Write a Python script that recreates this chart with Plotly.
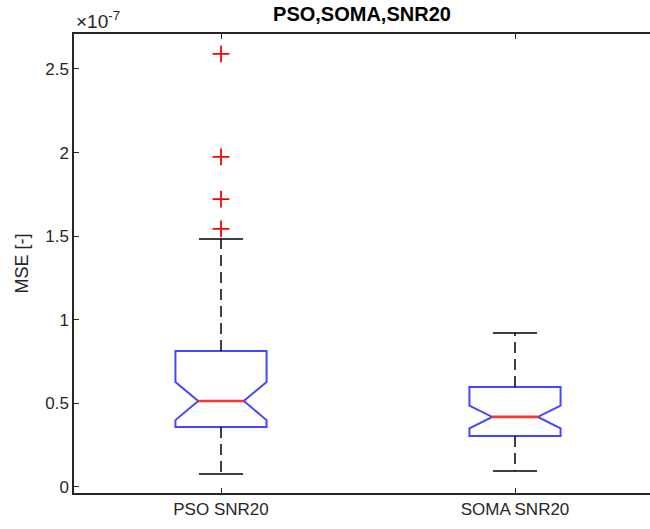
import plotly.graph_objects as go

# ---- data (values expressed in units of 1e-7) ----
SCALE = 1e-7
categories = ["PSO SNR20", "SOMA SNR20"]
positions = [1, 2]
q1 = [0.359, 0.305]
median = [0.514, 0.419]
q3 = [0.813, 0.598]
notch_half = [0.114, 0.068]
lower_whisker = [0.078, 0.096]
upper_whisker = [1.483, 0.921]
outliers_pso = [2.590, 1.974, 1.722, 1.543]
outliers_soma = []
ytick_vals = [0, 0.5, 1, 1.5, 2, 2.5]
ytick_text = ["0", "0.5", "1", "1.5", "2", "2.5"]

BOX_W = 0.31
NOTCH_W = 0.25
HALF_WAIST = BOX_W / 2 * (1 - 2 * NOTCH_W)
CAP_HALF = 0.075

BLUE = "rgb(70,70,255)"
RED = "rgb(255,50,50)"
AXC = "#262626"

fig = go.Figure()

for i, p in enumerate(positions):
    s = lambda v: v * SCALE
    fig.add_trace(go.Box(
        x=[p], q1=[s(q1[i])], median=[s(median[i])], q3=[s(q3[i])],
        lowerfence=[s(q1[i])], upperfence=[s(q3[i])],
        notchspan=[s(notch_half[i])], notched=True, notchwidth=NOTCH_W,
        width=BOX_W, whiskerwidth=0, boxpoints=False,
        line=dict(color=BLUE, width=2), fillcolor="rgba(0,0,0,0)",
        showlegend=False, hoverinfo="skip",
    ))
    for a, b in [(q3[i], upper_whisker[i]), (q1[i], lower_whisker[i])]:
        fig.add_trace(go.Scatter(
            x=[p, p], y=[s(a), s(b)], mode="lines",
            line=dict(color="black", width=1.5, dash="11px,6px"),
            showlegend=False, hoverinfo="skip"))
    for w in [upper_whisker[i], lower_whisker[i]]:
        fig.add_trace(go.Scatter(
            x=[p - CAP_HALF, p + CAP_HALF], y=[s(w), s(w)], mode="lines",
            line=dict(color="black", width=1.5),
            showlegend=False, hoverinfo="skip"))
    fig.add_trace(go.Scatter(
        x=[p - HALF_WAIST, p + HALF_WAIST], y=[s(median[i]), s(median[i])],
        mode="lines", line=dict(color=RED, width=2.6),
        showlegend=False, hoverinfo="skip"))

for p, outs in zip(positions, [outliers_pso, outliers_soma]):
    if outs:
        fig.add_trace(go.Scatter(
            x=[p] * len(outs), y=[v * SCALE for v in outs], mode="markers",
            marker=dict(symbol="cross-thin", size=12,
                        line=dict(color="red", width=1.8)),
            showlegend=False, hoverinfo="skip"))

FONT = "Liberation Sans, Arial, sans-serif"
XR = [0.5, 0.5 + 576 / 294]
fig.update_layout(
    width=650, height=529,
    margin=dict(l=74, r=0, t=34, b=36),
    paper_bgcolor="white", plot_bgcolor="white",
    font=dict(family=FONT, size=17, color=AXC),
    title=dict(text="<b>PSO,SOMA,SNR20</b>", x=0.5, xref="paper",
               xanchor="center", y=1 - 14 / 529, yanchor="middle",
               font=dict(family=FONT, size=20, color="black")),
    xaxis=dict(range=XR, tickvals=positions,
               ticktext=categories, ticks="inside", ticklen=5,
               tickcolor=AXC, showline=True, linecolor=AXC, linewidth=1.5,
               mirror="ticks", showgrid=False, zeroline=False,
               tickfont=dict(size=17, color=AXC)),
    yaxis=dict(range=[-0.036 * SCALE, 2.709 * SCALE],
               tickvals=[v * SCALE for v in ytick_vals], ticktext=ytick_text,
               ticks="inside", ticklen=5, tickcolor=AXC,
               showline=True, linecolor=AXC, linewidth=1.5, mirror=False,
               showgrid=False, zeroline=False,
               title=dict(text="MSE [-]", font=dict(size=18, color=AXC),
                          standoff=12),
               tickfont=dict(size=17, color=AXC)),
    annotations=[dict(text="×10<sup>-7</sup>", xref="paper", yref="paper",
                      x=0, y=1, xanchor="left", yanchor="bottom", yshift=0,
                      showarrow=False, font=dict(size=19, color=AXC))],
)

fig.write_html("out.html")
